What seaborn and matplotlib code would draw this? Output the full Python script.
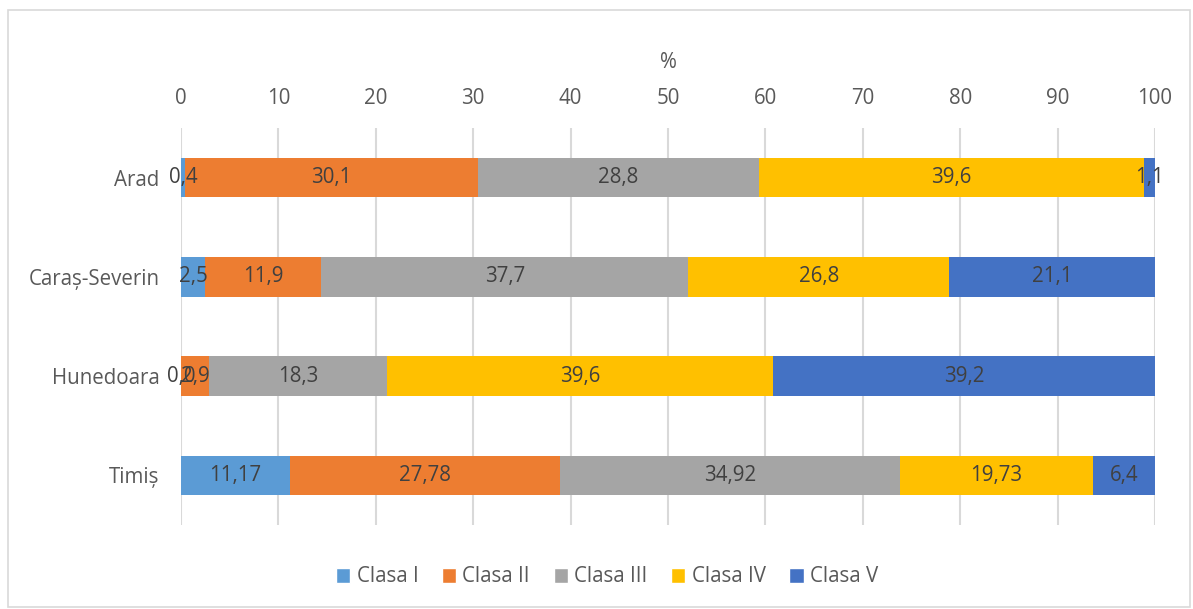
import numpy as np
import pandas as pd
import matplotlib
matplotlib.use("Agg")
import matplotlib.pyplot as plt
from matplotlib.patches import Patch, Rectangle
import seaborn as sns

judete = ["Arad", "Caraș-Severin", "Hunedoara", "Timiș"]
clase = ["Clasa I", "Clasa II", "Clasa III", "Clasa IV", "Clasa V"]
clasa_1 = [0.4, 2.5, 0.0, 11.17]
clasa_2 = [30.1, 11.9, 2.9, 27.78]
clasa_3 = [28.8, 37.7, 18.3, 34.92]
clasa_4 = [39.6, 26.8, 39.6, 19.73]
clasa_5 = [1.1, 21.1, 39.2, 6.4]
culori = ["#5B9BD5", "#ED7D31", "#A5A5A5", "#FFC000", "#4472C4"]

df = pd.DataFrame({"Judet": judete, "Clasa I": clasa_1, "Clasa II": clasa_2,
                   "Clasa III": clasa_3, "Clasa IV": clasa_4, "Clasa V": clasa_5})
cum = df[clase].cumsum(axis=1)

sns.set_style("white")
plt.rcParams["font.family"] = ["Open Sans", "DejaVu Sans"]
txt = "#595959"
fs = 14.8

fig = plt.figure(figsize=(11.93, 6.09), dpi=100)
ax = fig.add_axes([181/1193, 1-525/609, (1155-181)/1193, (525-128)/609])

# stacked bars: draw cumulative totals from the largest down
for c, col in reversed(list(zip(clase, culori))):
    sns.barplot(x=cum[c], y=df["Judet"], orient="h", color=col, saturation=1,
                width=0.4, linewidth=0, ax=ax, zorder=3)

# value labels centred in each segment
for c in clase:
    starts = cum[c] - df[c]
    for i, (s, v) in enumerate(zip(starts, df[c])):
        ax.text(s + v/2, i, str(v).replace(".", ","), ha="center", va="center",
                fontsize=fs, color="#404040", zorder=5)

ax.set_xlim(0, 100)
ax.set_ylim(3.5, -0.5)
ax.set_xticks(np.arange(0, 101, 10))
ax.xaxis.tick_top()
ax.xaxis.set_label_position("top")
ax.set_xlabel("%", fontsize=fs, color=txt, labelpad=14)
ax.set_ylabel("")
ax.tick_params(axis="x", length=0, pad=14, labelsize=fs, labelcolor=txt)
ax.tick_params(axis="y", length=0, pad=15.5, labelsize=fs, labelcolor=txt)
ax.grid(axis="x", color="#d9d9d9", linewidth=1.5, zorder=0)
ax.set_axisbelow(True)
for sp in ax.spines.values():
    sp.set_visible(False)

handles = [Patch(facecolor=col, label=c) for c, col in zip(clase, culori)]
fig.legend(handles=handles, loc="center", bbox_to_anchor=(607/1193, 1-577/609),
           ncol=5, frameon=False, fontsize=fs, labelcolor=txt,
           handlelength=0.7, handleheight=0.7, handletextpad=0.3, columnspacing=1.15)

fig.patches.append(Rectangle((8/1193, 1-607/609), 1182/1193, 597/609,
                             transform=fig.transFigure, fill=False,
                             edgecolor="#d9d9d9", linewidth=1.2))

fig.savefig("out.png", dpi=100)
